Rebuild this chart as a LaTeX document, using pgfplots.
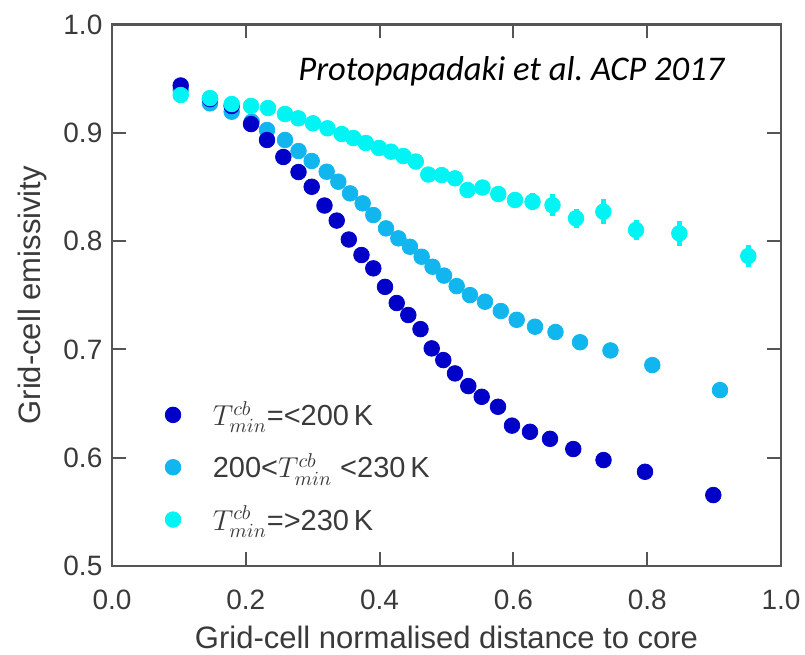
\documentclass[border=0pt]{standalone}
\usepackage{fontspec}
\setmainfont{Liberation Sans}
\newfontfamily\titlefont{Carlito}
\usepackage{pgfplots}
\usepackage{pgfplotstable}
\pgfplotsset{compat=1.18}
\usetikzlibrary{calc}

\definecolor{cdark}{HTML}{0000C8}
\definecolor{cmid}{HTML}{12B6EE}
\definecolor{ccyan}{HTML}{00F4F4}
\definecolor{axgray}{HTML}{555555}
\definecolor{txtgray}{HTML}{3A3A3A}

\pgfplotstableread{
x y
0.1027 0.9436
0.1465 0.9310
0.1789 0.9247
0.2078 0.9080
0.2317 0.8933
0.2561 0.8776
0.2788 0.8637
0.2985 0.8501
0.3176 0.8328
0.3359 0.8189
0.3540 0.8014
0.3729 0.7871
0.3906 0.7748
0.4081 0.7577
0.4256 0.7428
0.4429 0.7317
0.4611 0.7187
0.4779 0.7009
0.4952 0.6901
0.5127 0.6778
0.5326 0.6661
0.5526 0.6562
0.5770 0.6470
0.5979 0.6296
0.6248 0.6239
0.6547 0.6174
0.6895 0.6080
0.7347 0.5978
0.7967 0.5870
0.8988 0.5655
}\darkdata

\pgfplotstableread{
x y
0.1027 0.9394
0.1465 0.9271
0.1789 0.9194
0.2088 0.9102
0.2317 0.9025
0.2586 0.8933
0.2788 0.8831
0.2985 0.8739
0.3209 0.8640
0.3383 0.8548
0.3558 0.8440
0.3747 0.8348
0.3906 0.8240
0.4096 0.8117
0.4280 0.8025
0.4454 0.7947
0.4629 0.7855
0.4791 0.7763
0.4963 0.7681
0.5152 0.7584
0.5351 0.7501
0.5575 0.7440
0.5812 0.7354
0.6049 0.7273
0.6323 0.7209
0.6629 0.7160
0.6996 0.7066
0.7451 0.6990
0.8076 0.6855
0.9088 0.6624
}\middata

\pgfplotstableread{
x y ey
0.1027 0.9348 0.002
0.1465 0.9320 0.002
0.1789 0.9265 0.002
0.2078 0.9247 0.002
0.2332 0.9228 0.002
0.2586 0.9173 0.002
0.2785 0.9133 0.002
0.3004 0.9087 0.002
0.3221 0.9041 0.002
0.3434 0.8988 0.003
0.3607 0.8951 0.003
0.3794 0.8905 0.003
0.3991 0.8859 0.003
0.4170 0.8825 0.004
0.4354 0.8785 0.004
0.4541 0.8734 0.004
0.4728 0.8614 0.006
0.4928 0.8609 0.005
0.5127 0.8579 0.005
0.5314 0.8471 0.006
0.5538 0.8494 0.006
0.5774 0.8434 0.006
0.6024 0.8379 0.006
0.6286 0.8363 0.008
0.6584 0.8332 0.010
0.6936 0.8210 0.009
0.7344 0.8271 0.0115
0.7833 0.8102 0.009
0.8480 0.8071 0.0115
0.9511 0.7862 0.010
}\cyandata

\begin{document}
\begin{tikzpicture}
\begin{axis}[
  scale only axis, width=334.5pt, height=270.8pt,
  xmin=0, xmax=1, ymin=0.5, ymax=1.0,
  xtick={0,0.2,0.4,0.6,0.8,1.0},
  ytick={0.5,0.6,0.7,0.8,0.9,1.0},
  xticklabels={0.0,0.2,0.4,0.6,0.8,1.0},
  yticklabels={0.5,0.6,0.7,0.8,0.9,1.0},
  tick align=inside, major tick length=7pt,
  tick style={axgray, line width=1pt},
  axis line style={axgray, line width=1.2pt},
  ticklabel style={font=\fontsize{14}{16}\selectfont, text=txtgray},
  xticklabel style={anchor=center, yshift=-17pt},
  yticklabel style={anchor=east, xshift=-1.3pt},
  xlabel={Grid-cell normalised distance to core},
  ylabel={Grid-cell emissivity},
  label style={font=\fontsize{15.5}{18}\selectfont, text=txtgray, inner sep=0pt},
  xlabel style={at={(axis description cs:0.5,-0.132)}, anchor=center},
  ylabel style={at={(axis description cs:-0.1196,0.5)}, anchor=center},
  legend style={draw=none, fill=none, at={(axis description cs:0.07,0.045)}, anchor=south west,
    font=\fontsize{14.5}{17}\selectfont, text=txtgray, row sep=8.5pt,
    /tikz/every odd column/.append style={column sep=14pt}},
  legend cell align=left,
  clip=false,
]
\addlegendimage{only marks, mark=*, mark size=3.9pt, color=cdark}
\addlegendentry{$T^{cb}_{min}$=<200\,K}
\addlegendimage{only marks, mark=*, mark size=3.9pt, color=cmid}
\addlegendentry{200<$T^{cb}_{min}$ <230\,K}
\addlegendimage{only marks, mark=*, mark size=3.9pt, color=ccyan}
\addlegendentry{$T^{cb}_{min}$=>230\,K}

\addplot[forget plot, only marks, mark=*, mark size=3.9pt, color=cmid] table[x=x,y=y] {\middata};
\addplot[forget plot, only marks, mark=*, mark size=3.9pt, color=cdark] table[x=x,y=y] {\darkdata};
\addplot[forget plot, only marks, mark=*, mark size=3.9pt, color=ccyan,
  error bars/.cd, y dir=both, y explicit, error mark=none,
  error bar style={line width=2.5pt, color=ccyan}]
  table[x=x,y=y,y error=ey] {\cyandata};

\node[font=\titlefont\itshape\fontsize{17.3}{20}\selectfont, fill=white, inner xsep=13pt, inner ysep=4pt]
  at (rel axis cs:0.597,0.913) {Protopapadaki et al.\ ACP 2017};
\end{axis}
\pgfresetboundingbox
\path ($(current axis.south west)+(-56pt,-44pt)$) rectangle ($(current axis.north east)+(12pt,12.2pt)$);
\end{tikzpicture}
\end{document}
